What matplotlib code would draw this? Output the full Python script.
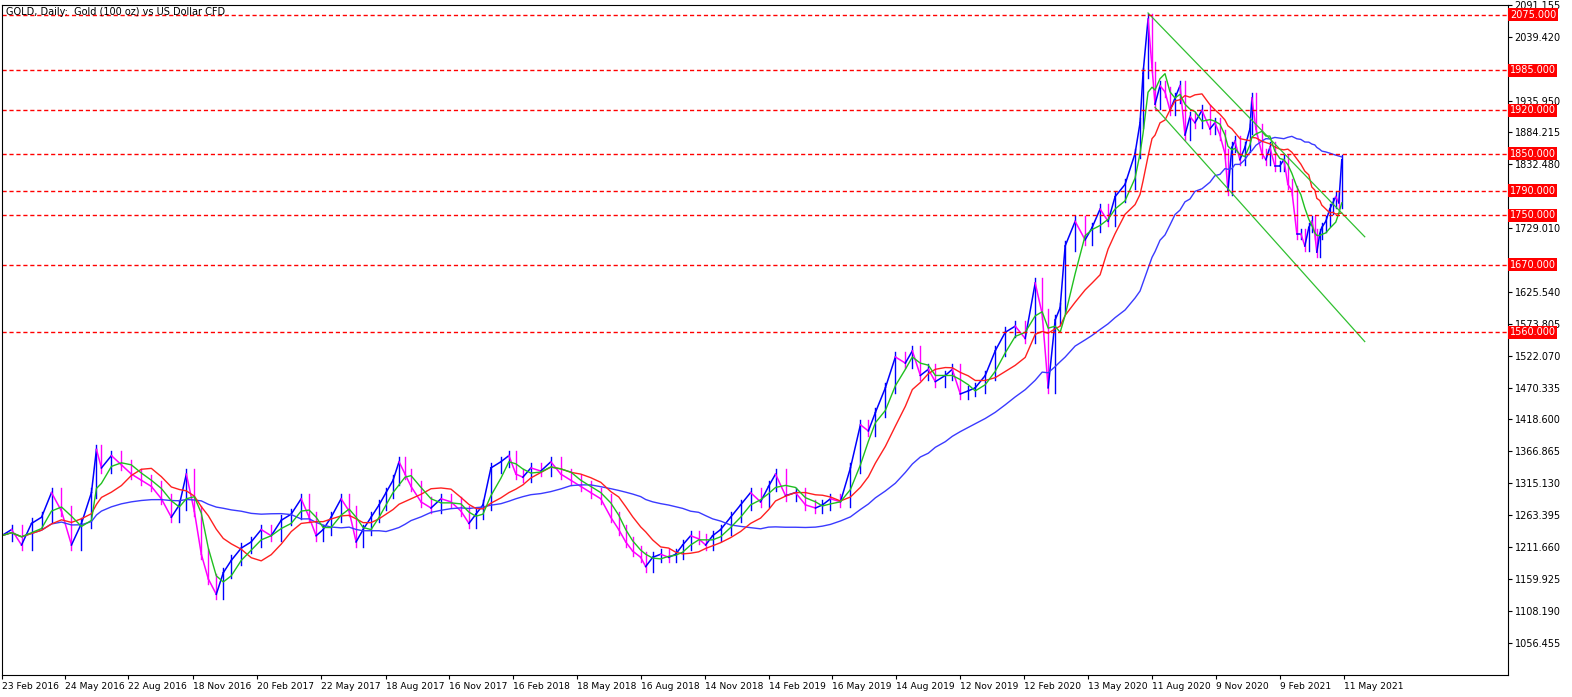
import numpy as np
import matplotlib
matplotlib.use("Agg")
import matplotlib.pyplot as plt

# bar index (trading days from 23 Feb 2016) and approximate closes
bar_idx = [0,10,20,30,40,50,60,70,80,90,95,100,110,120,130,140,150,160,170,178,185,193,200,207,215,222,230,240,250,260,270,280,290,300,308,315,322,330,340,348,355,362,370,378,385,392,398,404,410,420,430,440,450,460,468,475,482,490,500,508,515,522,530,540,550,560,570,580,590,600,610,618,625,632,640,645,652,660,668,675,682,690,698,705,712,720,730,740,750,760,768,775,785,795,805,815,822,830,840,850,860,868,875,885,895,905,912,920,928,935,945,952,960,968,975,985,995,1005,1015,1025,1035,1042,1048,1055,1060,1065,1075,1085,1092,1100,1108,1115,1125,1135,1140,1143,1148,1152,1155,1160,1165,1170,1175,1180,1185,1190,1195,1202,1210,1215,1220,1225,1228,1232,1235,1240,1245,1250,1252,1256,1262,1266,1270,1275,1280,1284,1288,1292,1297,1301,1305,1309,1312,1315,1317,1320,1322,1326,1330,1333,1336,1339,1342]
closes = [1230,1240,1215,1250,1260,1300,1270,1215,1250,1300,1370,1340,1360,1345,1330,1320,1310,1290,1260,1280,1330,1270,1200,1160,1135,1170,1190,1210,1220,1240,1230,1255,1265,1290,1260,1230,1240,1260,1290,1270,1220,1240,1260,1280,1300,1320,1350,1330,1310,1285,1275,1290,1285,1270,1250,1265,1280,1340,1350,1360,1330,1325,1340,1335,1350,1330,1320,1310,1300,1290,1260,1240,1220,1205,1195,1180,1195,1200,1195,1200,1215,1230,1225,1215,1230,1240,1260,1280,1300,1285,1310,1330,1295,1300,1280,1275,1280,1290,1285,1340,1410,1400,1430,1470,1520,1510,1530,1490,1500,1480,1490,1500,1460,1465,1470,1490,1530,1560,1570,1550,1640,1590,1470,1580,1600,1700,1740,1710,1730,1760,1740,1780,1800,1850,1900,1980,2068,1990,1930,1960,1950,1920,1940,1960,1880,1910,1900,1920,1890,1900,1880,1850,1790,1860,1870,1840,1860,1890,1940,1890,1850,1840,1860,1830,1830,1840,1800,1790,1720,1720,1700,1730,1740,1720,1690,1720,1730,1740,1760,1770,1780,1770,1840]

hlevels = [2075,1985,1920,1850,1790,1750,1670,1560]
ch_upper_x = [1148,1365]; ch_upper_y = [2078,1715]
ch_lower_x = [1155,1365]; ch_lower_y = [1925,1545]
tick_labels = ["23 Feb 2016","24 May 2016","22 Aug 2016","18 Nov 2016","20 Feb 2017","22 May 2017","18 Aug 2017","16 Nov 2017","16 Feb 2018","18 May 2018","16 Aug 2018","14 Nov 2018","14 Feb 2019","16 May 2019","14 Aug 2019","12 Nov 2019","12 Feb 2020","13 May 2020","11 Aug 2020","9 Nov 2020","9 Feb 2021","11 May 2021"]
tick_pos = [0,64,127,192,256,320,385,448,512,576,640,704,768,832,896,960,1024,1088,1152,1216,1280,1344]

x = np.array(bar_idx, float); c = np.array(closes, float)

fig = plt.figure(figsize=(15.72, 6.97), dpi=100)
ax = fig.add_axes([0.001, 0.032, 0.958, 0.961])
ax.set_xlim(0, 1508)
ymin, ymax = 1004.6, 2091.155
ax.set_ylim(ymin, ymax)

for i in range(1, len(x)):
    col = "#0000ff" if c[i] >= c[i-1] else "#ff00ff"
    ax.plot([x[i-1], x[i]], [c[i-1], c[i]], color=col, lw=1.1)
    ax.plot([x[i], x[i]], [min(c[i-1], c[i]) - 8, max(c[i-1], c[i]) + 8], color=col, lw=1.0)

def ma(w):
    out = []
    for xi in x:
        m = (x <= xi) & (x > xi - w)
        out.append(c[m].mean())
    return np.array(out)

ax.plot(x, ma(200), color="#3a3aff", lw=1)
ax.plot(x, ma(60), color="#ff2020", lw=1)
ax.plot(x, ma(22), color="#20c020", lw=1)

ax.plot(ch_upper_x, ch_upper_y, color="#30c030", lw=0.9)
ax.plot(ch_lower_x, ch_lower_y, color="#30c030", lw=0.9)

for lv in hlevels:
    ax.axhline(lv, color="red", ls=(0, (3, 2)), lw=1)

ax.yaxis.tick_right()
yt = 1056.455 + 51.735 * np.arange(0, 21)
ax.set_yticks(yt)
ylabels = []
for v in yt:
    near = any(abs(v - lv) < 12 for lv in hlevels)
    ylabels.append("" if near else f"{v:.3f}")
ax.set_yticklabels(ylabels, fontsize=7)
ax.tick_params(axis="y", length=3, pad=2)
for lv in hlevels:
    ax.text(1.0015, lv, f"{lv:.3f}", transform=ax.get_yaxis_transform(), fontsize=7,
            color="white", va="center", ha="left",
            bbox=dict(boxstyle="square,pad=0.15", fc="#ff0000", ec="none"))

ax.set_xticks(tick_pos)
ax.set_xticklabels(tick_labels, fontsize=6.6, ha="left")
ax.tick_params(axis="x", length=3, pad=2)
ax.text(0.003, 0.997, "GOLD, Daily:  Gold (100 oz) vs US Dollar CFD", transform=ax.transAxes,
        fontsize=7, va="top", ha="left")
for s in ax.spines.values():
    s.set_linewidth(0.8)
fig.savefig("out.png", dpi=100)
